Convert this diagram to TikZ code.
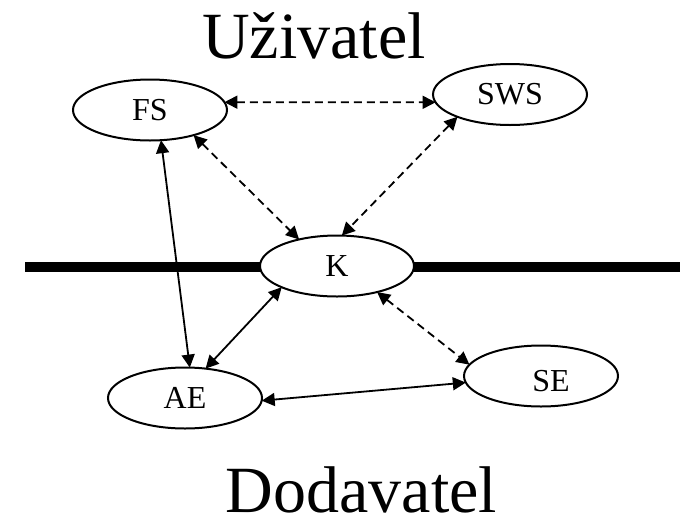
\documentclass[tikz,border=0pt]{standalone}
\usepackage{fontspec}
\setmainfont{Liberation Serif}
\usetikzlibrary{shapes.geometric,arrows.meta}

\begin{document}
\begin{tikzpicture}[x=1pt,y=-1pt,
  ell/.style={draw,ellipse,line width=2pt,minimum width=154pt,minimum height=61pt,
    inner sep=0pt,outer sep=0pt,font=\fontsize{32}{36}\selectfont},
  lbl/.style={inner sep=0pt,font=\fontsize{32}{36}\selectfont},
  title/.style={inner sep=0pt,anchor=base,font=\fontsize{66}{70}\selectfont},
  link/.style={line width=1.8pt,{Triangle[length=13pt,width=13pt]}-{Triangle[length=13pt,width=13pt]}},
  dlink/.style={link,dash pattern=on 8pt off 5pt}]

  \useasboundingbox (0,0) rectangle (680,517);

  % boundary between user and supplier side
  \coordinate (barL) at (25,267);
  \coordinate (barR) at (680,267);
  \draw[line width=10pt] (barL) -- (barR);

  % components
  \node[ell] (FS)  at (150,110) {FS};
  \node[ell] (SWS) at (510,94.5) {SWS};
  \node[ell,fill=white] (K) at (337,266) {K};
  \node[ell] (AE)  at (185,398) {AE};
  \node[ell] (SE)  at (541,376) {};
  \node[lbl] (SEt) at (551,381) {SE};

  % side labels
  \node[title] (user) at (314,58) {Uživatel};
  \node[title] (supp) at (361.5,512) {Dodavatel};

  % connections
  \draw[dlink] (FS.6) -- (SWS.186);
  \draw[dlink] (FS.-30) -- (K.145);
  \draw[dlink] (SWS.203) -- (K.81);
  \draw[dlink] (K.-33) -- (SE.171);
  \draw[link] (FS.-70) -- (AE.81);
  \draw[link] (AE.55) -- (K.201);
  \draw[link] (AE.-2) -- (SE.185);
\end{tikzpicture}
\end{document}
